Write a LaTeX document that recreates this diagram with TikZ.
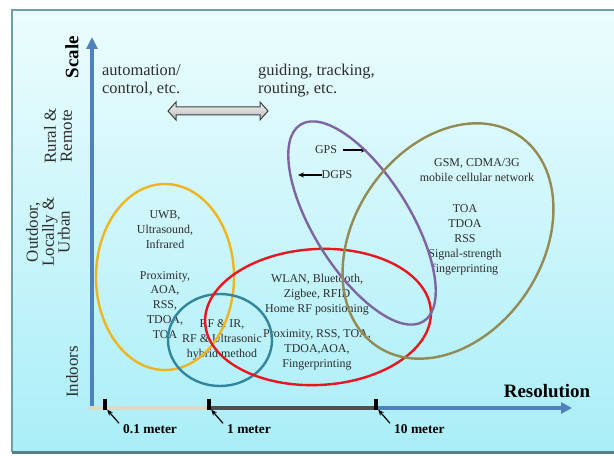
\documentclass[tikz,border=0pt]{standalone}
\usepackage{fontspec}
\setmainfont{Liberation Serif}
\usetikzlibrary{arrows.meta,positioning,calc}

\definecolor{axisblue}{RGB}{79,129,189}
\definecolor{scalebeige}{RGB}{221,217,195}
\definecolor{scalegray}{RGB}{80,80,80}
\definecolor{ringyellow}{RGB}{240,180,30}
\definecolor{ringteal}{RGB}{49,133,156}
\definecolor{ringred}{RGB}{232,22,30}
\definecolor{ringpurple}{RGB}{128,100,162}
\definecolor{ringolive}{RGB}{148,138,84}
\definecolor{txtgray}{RGB}{45,45,45}
\definecolor{bgtop}{RGB}{236,253,253}
\definecolor{bgbot}{RGB}{170,238,248}
\definecolor{frameline}{RGB}{110,160,170}

\tikzset{
  ring/.style={line width=2.4bp},
  inner/.style={align=center, font=\fontsize{12}{15}\selectfont, text=txtgray, inner sep=0pt},
  toplbl/.style={align=left, font=\fontsize{16.5}{18}\selectfont, text=txtgray, inner sep=0pt, anchor=north west},
  sidelbl/.style={align=center, rotate=90, font=\fontsize{17}{16}\selectfont, text=txtgray, inner sep=0pt},
  axislbl/.style={font=\fontsize{19}{20}\selectfont\bfseries, text=black, inner sep=0pt},
  meterlbl/.style={font=\fontsize{13.5}{15}\selectfont\bfseries, inner sep=1pt, anchor=west},
  tickmark/.style={fill=black, minimum width=4bp, minimum height=11bp, inner sep=0pt},
  ptr/.style={-{Stealth[length=6bp,width=5bp]}, line width=1.2bp},
}

\begin{document}
\begin{tikzpicture}[x=1bp, y=-1bp]
  \useasboundingbox (0,0) rectangle (614,456);
  % Slide background
  \shade[top color=bgtop, bottom color=bgbot] (12,10) rectangle (625,452);
  \draw[frameline, line width=1.5bp] (625,10) -- (12,10) -- (12,452);
  \draw[frameline!80!black, line width=3bp] (12,452) -- (625,452);

  % Axes
  \draw[axisblue, line width=3.5bp, -{Triangle[length=12bp,width=11bp]}] (92,409) -- (92,37);
  \draw[scalebeige, line width=4.5bp] (89,408) -- (209,408);
  \draw[scalegray, line width=4.5bp] (209,408) -- (376,408);
  \draw[axisblue, line width=4.5bp, -{Triangle[length=11bp,width=11bp]}] (376,408) -- (572,408);
  \foreach \tx/\tn in {105/t1, 209/t2, 376/t3} {
    \node[tickmark] (\tn) at (\tx,404) {};
  }
  \node[axislbl, rotate=90] (scale) at (72,57) {Scale};
  \node[axislbl] (res) at (547,391) {Resolution};

  % Meter labels
  \node[meterlbl] (m1) at (122,429) {0.1 meter};
  \node[meterlbl] (m2) at (226,429) {1 meter};
  \node[meterlbl] (m3) at (393,429) {10 meter};
  \draw[ptr] ([xshift=-3bp]m1.north west) -- (t1.south east);
  \draw[ptr] ([xshift=-3bp]m2.north west) -- (t2.south east);
  \draw[ptr] ([xshift=-3bp]m3.north west) -- (t3.south east);

  % Scale levels
  \node[sidelbl] (rural) at (58,136) {Rural \&\\Remote};
  \node[sidelbl] (urban) at (48,232) {Outdoor,\\Locally \&\\Urban};
  \node[sidelbl] (indoor) at (72,372) {Indoors};

  % Applications
  \node[toplbl] (auto) at (102,64) {automation/\\control, etc.};
  \node[toplbl] (guide) at (258,64) {guiding, tracking,\\routing, etc.};
  \shade[top color=gray!10, bottom color=gray!55, draw=black!75, line width=1bp]
    (168,111) -- (176,102) -- (176,107) -- (260,107) -- (260,102) -- (268,111)
    -- (260,120) -- (260,115) -- (176,115) -- (176,120) -- cycle;

  % Technologies
  \node[inner] (uwb) at (165,230) {UWB,\\Ultrasound,\\Infrared};
  \node[inner] (yprox) at (165,305) {Proximity,\\AOA,\\RSS,\\TDOA,\\TOA};
  \node[inner] (hybrid) at (222,340) {RF \& IR,\\RF \& Ultrasonic\\hybrid method};
  \node[inner] (wlan) at (317,295) {WLAN, Bluetooth,\\Zigbee, RFID\\Home RF positioning};
  \node[inner] (rprox) at (317,350) {Proximity, RSS, TOA,\\TDOA,AOA,\\Fingerprinting};
  \node[inner] (gps) at (326,150) {GPS};
  \node[inner] (dgps) at (337,175) {DGPS};
  \coordinate (gpsend) at (367,150);
  \coordinate (dgpsend) at (298,175);
  \draw[ptr] ([xshift=6bp]gps.east) -- (gpsend);
  \draw[ptr] (dgps.west) -- (dgpsend);
  \node[inner] (gsm) at (477,170) {GSM, CDMA/3G\\mobile cellular network};
  \node[inner] (cell) at (465,240) {TOA\\TDOA\\RSS\\Signal-strength\\fingerprinting};

  % Regions
  \draw[ring, ringyellow] (165,277) ellipse [x radius=69bp, y radius=93bp];
  \draw[ring, ringteal] (220,340) ellipse [x radius=52bp, y radius=46bp];
  \draw[ring, ringred, rotate around={3:(318,317)}] (318,317) ellipse [x radius=113bp, y radius=68bp];
  \draw[ring, ringpurple, rotate around={-58:(362,223)}] (362,223) ellipse [x radius=116bp, y radius=48bp];
  \draw[ring, ringolive, rotate around={56:(448,241)}] (448,241) ellipse [x radius=127bp, y radius=94bp];
\end{tikzpicture}
\end{document}
